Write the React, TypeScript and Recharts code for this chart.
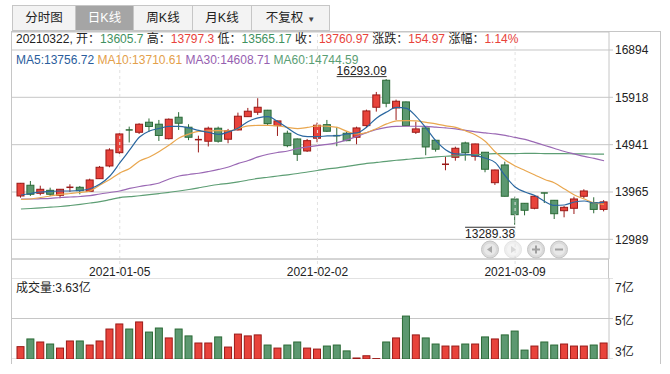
import React from 'react';
import {
  ComposedChart,
  BarChart,
  Bar,
  Line,
  XAxis,
  YAxis,
  CartesianGrid,
  ReferenceLine,
  ReferenceDot,
} from 'recharts';

const FONT = '"Liberation Sans", "Noto Sans CJK SC", sans-serif';
const RED = '#e8433b';
const RED_DARK = '#9a1a18';
const GREEN = '#5c9870';
const GREEN_DARK = '#2b6a36';
const GRID = '#c6c6c6';

const dates = [
  '2020-12-21', '2020-12-22', '2020-12-23', '2020-12-24', '2020-12-25', '2020-12-28', '2020-12-29', '2020-12-30', '2020-12-31', '2021-01-04',
  '2021-01-05', '2021-01-06', '2021-01-07', '2021-01-08', '2021-01-11', '2021-01-12', '2021-01-13', '2021-01-14', '2021-01-15', '2021-01-18',
  '2021-01-19', '2021-01-20', '2021-01-21', '2021-01-22', '2021-01-25', '2021-01-26', '2021-01-27', '2021-01-28', '2021-01-29', '2021-02-01',
  '2021-02-02', '2021-02-03', '2021-02-04', '2021-02-05', '2021-02-08', '2021-02-09', '2021-02-10', '2021-02-18', '2021-02-19', '2021-02-22',
  '2021-02-23', '2021-02-24', '2021-02-25', '2021-02-26', '2021-03-01', '2021-03-02', '2021-03-03', '2021-03-04', '2021-03-05', '2021-03-08',
  '2021-03-09', '2021-03-10', '2021-03-11', '2021-03-12', '2021-03-15', '2021-03-16', '2021-03-17', '2021-03-18', '2021-03-19', '2021-03-22',
];

const opens = [
  13883, 14104, 13938, 14000, 13897, 14027, 14062, 13980, 14240, 14502,
  14776, 15245, 15197, 15404, 15363, 15065, 15507, 15301, 15018, 15012,
  15280, 15053, 15245, 15519, 15610, 15652, 15334, 15177, 15059, 14811,
  15074, 15354, 15127, 15177, 15094, 15334, 15713, 16270, 15699, 15823,
  15197, 15286, 15032, 14502, 14681, 14977, 14702, 14785, 14157, 14523,
  13821, 13732, 13629, 13945, 13794, 13579, 13629, 13877, 13744, 13605.7,
];
const highs = [
  14151, 14192, 14095, 14054, 14027, 14124, 14089, 14240, 14502, 14867,
  15177, 15313, 15383, 15482, 15451, 15482, 15612, 15363, 15127, 15313,
  15313, 15266, 15602, 15699, 15899, 15658, 15437, 15230, 15069, 15059,
  15396, 15451, 15307, 15210, 15313, 15664, 16029, 16293.09, 15870, 15830,
  15416, 15290, 15038, 14694, 14900, 15003, 14962, 14790, 14426, 14591,
  13868, 13738, 13903, 13950, 13800, 13676, 13868, 14021, 13856, 13797.3,
];
const lows = [
  13848, 13883, 13897, 13883, 13835, 13965, 13918, 13975, 14234, 14475,
  14750, 14987, 15162, 15204, 15018, 15049, 15245, 15034, 14781, 14904,
  14983, 14970, 15234, 15513, 15555, 15334, 15121, 14888, 14605, 14791,
  14991, 15204, 14909, 15012, 14950, 15292, 15623, 15713, 15451, 15328,
  15162, 14723, 14797, 14413, 14611, 14611, 14611, 14372, 14110, 13872,
  13289.38, 13484, 13608, 13738, 13408, 13443, 13511, 13835, 13526, 13565.17,
];
const closes = [
  14145, 13918, 14021, 13918, 14021, 14062, 13992, 14213, 14475, 14832,
  15162, 15210, 15363, 15317, 15131, 15466, 15383, 15094, 15045, 15280,
  15012, 15230, 15528, 15631, 15713, 15375, 15431, 14921, 14743, 15024,
  15342, 15218, 15111, 15024, 15286, 15637, 15967, 15796, 15837, 15334,
  15266, 14894, 14847, 14537, 14867, 14776, 14956, 14434, 14419, 13877,
  13497, 13588, 13877, 13918, 13517, 13649, 13821, 13986, 13606, 13760.97,
];
// 成交量（亿）
const volumes = [
  3.61, 3.99, 3.84, 3.74, 3.54, 3.89, 3.89, 3.69, 3.89, 4.48,
  4.73, 4.48, 4.83, 4.33, 4.53, 4.04, 4.48, 4.14, 3.79, 3.79,
  4.09, 3.59, 4.23, 4.14, 4.19, 3.69, 3.54, 3.69, 3.84, 3.54,
  3.49, 3.64, 3.69, 3.40, 3.05, 3.16, 3.02, 3.84, 4.04, 5.12,
  4.19, 4.04, 3.74, 3.64, 3.64, 3.74, 3.74, 4.09, 3.99, 4.19,
  4.38, 3.44, 3.64, 3.84, 3.69, 3.74, 3.64, 3.64, 3.69, 3.79,
];
const volumeLabel = '3.63亿';
const ma5 = [
  13903, 13934, 13965, 13976, 13986, 13986, 13996, 14033, 14130, 14295,
  14564, 14832, 15100, 15224, 15276, 15317, 15317, 15286, 15235, 15193,
  15152, 15204, 15286, 15420, 15493, 15519, 15416, 15280, 15152, 15107,
  15107, 15121, 15127, 15162, 15183, 15307, 15493, 15616, 15709, 15689,
  15519, 15280, 15018, 14832, 14750, 14743, 14714, 14661, 14570, 14295,
  14068, 13965, 13893, 13769, 13687, 13697, 13759, 13779, 13738, 13756.72,
];
const ma10 = [
  13810, 13821, 13852, 13883, 13914, 13934, 13955, 13986, 14110, 14223,
  14357, 14450, 14605, 14688, 14801, 14935, 15080, 15162, 15214, 15224,
  15230, 15224, 15276, 15328, 15338, 15338, 15328, 15297, 15272, 15297,
  15328, 15321, 15297, 15214, 15162, 15193, 15276, 15369, 15431, 15437,
  15431, 15400, 15369, 15328, 15297, 15224, 15142, 15008, 14791, 14626,
  14502, 14409, 14316, 14223, 14151, 14027, 13903, 13821, 13738, 13710.61,
];
const ma30 = [
  13821, 13821, 13827, 13835, 13852, 13862, 13872, 13889, 13924, 13955,
  13986, 14038, 14079, 14110, 14151, 14234, 14295, 14326, 14351, 14388,
  14430, 14481, 14554, 14615, 14688, 14743, 14781, 14811, 14863, 14894,
  14921, 14946, 14983, 15039, 15111, 15189, 15255, 15297, 15317, 15321,
  15321, 15317, 15301, 15286, 15266, 15235, 15204, 15183, 15162, 15131,
  15090, 15049, 14987, 14925, 14863, 14801, 14750, 14698, 14657, 14608.71,
];
const ma60 = [
  13614, 13625, 13639, 13652, 13666, 13687, 13711, 13738, 13765, 13806,
  13848, 13868, 13887, 13910, 13934, 13959, 13986, 14017, 14052, 14089,
  14120, 14141, 14172, 14213, 14244, 14269, 14295, 14320, 14347, 14378,
  14409, 14440, 14461, 14492, 14523, 14554, 14574, 14595, 14620, 14636,
  14657, 14671, 14688, 14702, 14712, 14723, 14735, 14745, 14756, 14757,
  14758, 14760, 14760, 14758, 14757, 14755, 14752, 14750, 14747, 14744.59,
];

const priceTicks = [12989, 13965, 14941, 15918, 16894];
const volTicks = [3, 5, 7];
const labelDates = ['2021-01-05', '2021-02-02', '2021-03-09'];
const tabs = ['分时图', '日K线', '周K线', '月K线', '不复权'];

const rows = dates.map((date, i) => ({
  date,
  open: opens[i],
  high: highs[i],
  low: lows[i],
  close: closes[i],
  vol: volumes[i],
  ma5: ma5[i],
  ma10: ma10[i],
  ma30: ma30[i],
  ma60: ma60[i],
}));

const last = rows[rows.length - 1];
const prevClose = closes[closes.length - 2];
const change = last.close - prevClose;

const Candle = (props: any) => {
  const { x, y, width, height, payload } = props;
  const top = Math.min(y, y + height);
  const h = Math.abs(height);
  const range = payload.high - payload.low || 1;
  const py = (v: number) => top + ((payload.high - v) / range) * h;
  const up = payload.close >= payload.open;
  const cx = x + width / 2;
  const bTop = py(Math.max(payload.open, payload.close));
  const bBot = py(Math.min(payload.open, payload.close));
  const dark = up ? RED_DARK : GREEN_DARK;
  const thin = bBot - bTop < 2;
  return (
    <g>
      <line x1={cx} x2={cx} y1={top} y2={top + h} stroke={dark} strokeWidth={1} />
      <rect
        x={x}
        y={thin ? bTop - 0.75 : bTop}
        width={width}
        height={thin ? 1.5 : bBot - bTop}
        fill={thin ? dark : up ? RED : GREEN}
        stroke={dark}
        strokeWidth={thin ? 0 : 1}
      />
    </g>
  );
};

const VolBar = (props: any) => {
  const { x, y, width, height, payload } = props;
  const up = payload.close >= payload.open;
  return (
    <rect
      x={x}
      y={Math.min(y, y + height)}
      width={width}
      height={Math.abs(height)}
      fill={up ? RED : GREEN}
      stroke={up ? RED_DARK : GREEN_DARK}
      strokeWidth={1}
    />
  );
};

const DateTick = (props: any) => {
  const { x, y, payload } = props;
  if (!labelDates.includes(payload.value)) return <g />;
  return (
    <g>
      <line x1={x} x2={x} y1={y} y2={y + 19} stroke="#e2e2e2" strokeDasharray="3 3" />
      <text x={x} y={y + 15} textAnchor="middle" fontSize={12} fill="#222" fontFamily={FONT}>
        {payload.value}
      </text>
    </g>
  );
};

const volOffset: Record<number, number> = { 7: 10, 5: 2, 3: -7 };
const VolTick = (props: any) => {
  const { x, y, payload } = props;
  return (
    <text x={x} y={y + (volOffset[payload.value] || 0)} dy="0.355em" textAnchor="start" fontSize={12} fill="#222" fontFamily={FONT}>
      {payload.value}亿
    </text>
  );
};

const PeakLabel = (props: any) => {
  const { x, y } = props.viewBox;
  return (
    <g>
      <text x={x} y={y - 4} textAnchor="end" fontSize={12} fill="#222" fontFamily={FONT}>
        {highs[37].toFixed(2)}
      </text>
      <line x1={x - 50} x2={x} y1={y - 2.5} y2={y - 2.5} stroke="#333" />
    </g>
  );
};

const TroughLabel = (props: any) => {
  const { x, y } = props.viewBox;
  return (
    <g>
      <line x1={x - 50} x2={x} y1={y + 2.5} y2={y + 2.5} stroke="#333" />
      <text x={x} y={y + 13} textAnchor="end" fontSize={12} fill="#222" fontFamily={FONT}>
        {lows[50].toFixed(2)}
      </text>
    </g>
  );
};

const abs = (left: number, top: number, extra: any = {}) => ({ position: 'absolute' as const, left, top, ...extra });

export default function App() {
  const tabX = [12, 76, 134, 193, 252, 330];
  return (
    <div style={{ position: 'absolute', left: 0, top: 0, width: 670, height: 374, background: '#fff', fontFamily: FONT, color: '#222', overflow: 'hidden' }}>
      {tabs.map((t, i) => (
        <div
          key={t}
          style={abs(tabX[i], 5, {
            width: tabX[i + 1] - tabX[i],
            height: 26,
            boxSizing: 'border-box',
            border: `1px solid ${GRID}`,
            borderLeft: i === 0 ? `1px solid ${GRID}` : 'none',
            background: i === 1 ? '#a5a5a5' : '#f3f3f3',
            color: i === 1 ? '#fff' : '#222',
            fontSize: 12.5,
            lineHeight: '25px',
            textAlign: 'center',
          })}
        >
          {t}
          {i === 4 ? <span style={{ fontSize: 8, marginLeft: 4, color: '#444' }}>▼</span> : null}
        </div>
      ))}

      <div style={abs(0, 0)}>
        <ComposedChart width={670} height={278} data={rows} margin={{ top: 32, right: 0, bottom: 0, left: 12 }}>
          <CartesianGrid vertical={false} stroke={GRID} />
          <XAxis
            dataKey="date"
            interval={0}
            tickSize={0}
            height={19}
            tick={<DateTick />}
            axisLine={{ stroke: GRID }}
            padding={{ left: 4, right: 0 }}
          />
          <YAxis
            orientation="right"
            width={61}
            domain={[12583, 17265]}
            allowDataOverflow
            ticks={priceTicks}
            interval={0}
            tickSize={4}
            axisLine={{ stroke: GRID }}
            tickLine={{ stroke: GRID }}
            tick={{ fill: '#222', fontSize: 12, fontFamily: FONT }}
          />
          {labelDates.map((d) => (
            <ReferenceLine key={d} x={d} stroke="#e2e2e2" strokeDasharray="3 3" />
          ))}
          <Bar dataKey={(d: any) => [d.low, d.high]} barSize={7} shape={Candle} isAnimationActive={false} />
          <Line type="monotone" dataKey="ma60" stroke="#5d9e74" strokeWidth={1.2} dot={false} isAnimationActive={false} />
          <Line type="monotone" dataKey="ma30" stroke="#9a68b4" strokeWidth={1.2} dot={false} isAnimationActive={false} />
          <Line type="monotone" dataKey="ma10" stroke="#e9a74f" strokeWidth={1.2} dot={false} isAnimationActive={false} />
          <Line type="monotone" dataKey="ma5" stroke="#2a67a0" strokeWidth={1.2} dot={false} isAnimationActive={false} />
          <ReferenceDot x={dates[37]} y={highs[37]} r={0} label={PeakLabel} />
          <ReferenceDot x={dates[50]} y={lows[50]} r={0} label={TroughLabel} />
        </ComposedChart>
      </div>

      <div style={abs(0, 278)}>
        <BarChart width={670} height={81} data={rows} margin={{ top: 0, right: 0, bottom: 0, left: 12 }}>
          <CartesianGrid vertical={false} stroke={GRID} />
          <XAxis dataKey="date" hide padding={{ left: 4, right: 0 }} />
          <YAxis
            orientation="right"
            width={61}
            domain={[3, 7]}
            allowDataOverflow
            ticks={volTicks}
            interval={0}
            tickSize={4}
            axisLine={{ stroke: GRID }}
            tickLine={{ stroke: GRID }}
            tick={<VolTick />}
          />
          <Bar dataKey="vol" barSize={7} shape={VolBar} isAnimationActive={false} />
        </BarChart>
      </div>

      {/* frame */}
      <div style={abs(11, 31, { width: 650, height: 1, background: GRID })} />
      <div style={abs(11, 31, { width: 1, height: 333, background: GRID })} />
      <div style={abs(660, 31, { width: 1, height: 333, background: GRID })} />
      <div style={abs(608, 259, { width: 1, height: 19, background: GRID })} />

      <div style={abs(16, 31, { fontSize: 12, lineHeight: '17px', whiteSpace: 'nowrap' })}>
        <span>{last.date.replace(/-/g, '')}, 开：</span>
        <span style={{ color: '#3f9160' }}>{last.open}</span>
        <span> 高：</span>
        <span style={{ color: RED }}>{last.high}</span>
        <span> 低：</span>
        <span style={{ color: '#3f9160' }}>{last.low}</span>
        <span> 收：</span>
        <span style={{ color: RED }}>{last.close}</span>
        <span> 涨跌：</span>
        <span style={{ color: RED }}>{change.toFixed(2)}</span>
        <span> 涨幅：</span>
        <span style={{ color: RED }}>{((change / prevClose) * 100).toFixed(2)}%</span>
      </div>
      <div style={abs(16, 52, { fontSize: 12, lineHeight: '17px', whiteSpace: 'nowrap' })}>
        <span style={{ color: '#2a5d9c' }}>MA5:{last.ma5}</span>{' '}
        <span style={{ color: '#e3a04a' }}>MA10:{last.ma10}</span>{' '}
        <span style={{ color: '#9660b0' }}>MA30:{last.ma30}</span>{' '}
        <span style={{ color: '#5a9e74' }}>MA60:{last.ma60}</span>
      </div>
      <div style={abs(16, 280, { fontSize: 12, lineHeight: '17px' })}>成交量:{volumeLabel}</div>

      {/* zoom / pan buttons */}
      <svg width={670} height={374} style={abs(0, 0, { pointerEvents: 'none' })}>
        {[490, 513, 536, 559].map((cx, i) => (
          <g key={cx} opacity={i === 1 ? 0.45 : 1}>
            <circle cx={cx} cy={249.5} r={8.5} fill="#dadada" stroke="#c4c4c4" />
            <circle cx={cx} cy={249.5} r={6} fill="#e8e8e8" />
            {i === 0 && <path d={`M${cx - 3},249.5 L${cx + 2},246 L${cx + 2},253 Z`} fill="#a8a8a8" />}
            {i === 1 && <path d={`M${cx + 3},249.5 L${cx - 2},246 L${cx - 2},253 Z`} fill="#a8a8a8" />}
            {i === 2 && <path d={`M${cx - 4},249.5 H${cx + 4} M${cx},245.5 V253.5`} stroke="#a0a0a0" strokeWidth={2} />}
            {i === 3 && <path d={`M${cx - 4},249.5 H${cx + 4}`} stroke="#a0a0a0" strokeWidth={2} />}
          </g>
        ))}
      </svg>
    </div>
  );
}
